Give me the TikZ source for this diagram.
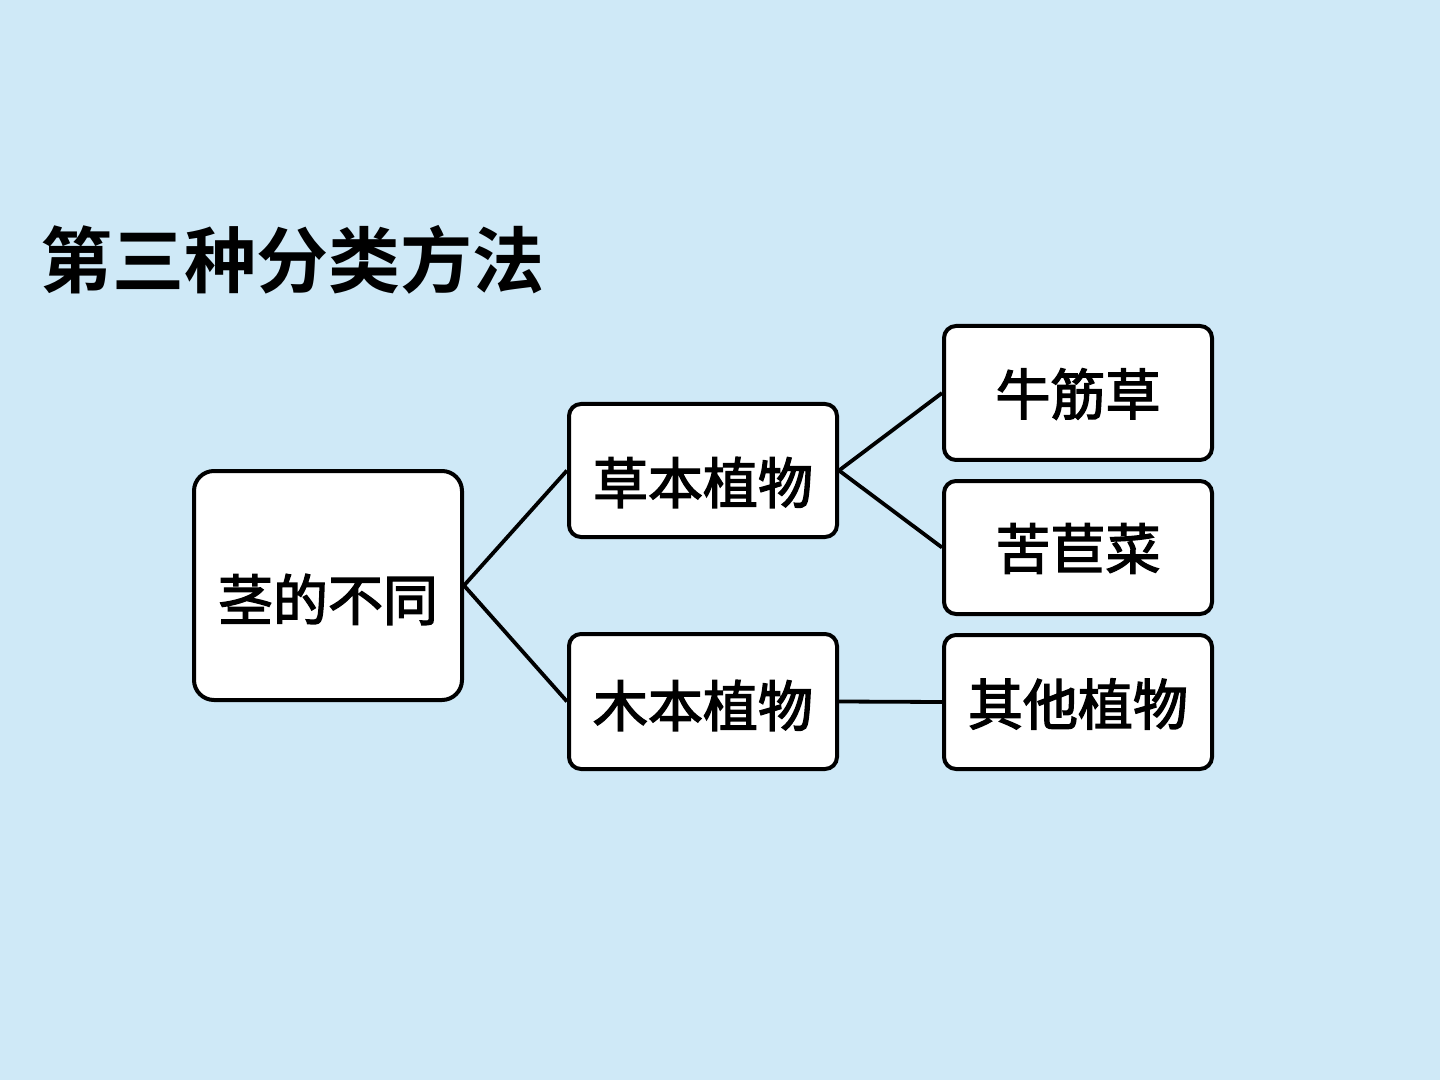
\documentclass[tikz,border=0pt]{standalone}
\usepackage{fontspec}
\newfontfamily\cjk{Noto Sans CJK SC}[FakeBold=2.5]
\newfontfamily\cjkb{Noto Sans CJK SC}[BoldFont={* Bold}]
\definecolor{bgblue}{HTML}{CFE9F7}
\tikzset{
  px/.style={x=0.5pt,y=-0.5pt},
  boxnode/.style={draw=black,line width=2pt,fill=white,rounded corners=6pt,inner sep=0pt,anchor=north west},
  txt/.style={inner sep=0pt,font=\cjk\fontsize{27.5pt}{30pt}\selectfont,text=black},
  link/.style={draw=black,line width=1.9pt}
}
\begin{document}
\begin{tikzpicture}[px]
\fill[bgblue] (0,0) rectangle (1440,1080);
\useasboundingbox (0,0) rectangle (1440,1080);
\node[inner sep=0pt,anchor=west,font=\cjkb\bfseries\fontsize{36pt}{40pt}\selectfont] (title) at (40,260) {第三种分类方法};
% boxes
\node[boxnode,rounded corners=10pt,minimum width=134pt,minimum height=114.5pt] (root) at (192,469) {};
\node[boxnode,minimum width=134pt,minimum height=66.5pt] (herb) at (567,402) {};
\node[boxnode,minimum width=134pt,minimum height=67.5pt] (wood) at (567,632) {};
\node[boxnode,minimum width=134pt,minimum height=67pt] (b1) at (942,324) {};
\node[boxnode,minimum width=134pt,minimum height=66.5pt] (b2) at (942,479) {};
\node[boxnode,minimum width=134pt,minimum height=67pt] (b3) at (942,633) {};
% texts
\node[txt] (troot) at ([yshift=-7pt]root.center) {茎的不同};
\node[txt] (therb) at ([yshift=-6pt]herb.center) {草本植物};
\node[txt] (twood) at ([yshift=-2pt]wood.center) {木本植物};
\node[txt] (tb1) at ([yshift=-0.5pt]b1.center) {牛筋草};
\node[txt] (tb2) at ([yshift=-0.5pt]b2.center) {苦苣菜};
\node[txt] (tb3) at ([yshift=-1pt]b3.center) {其他植物};
% connectors
\draw[link] (root.east) -- (herb.west);
\draw[link] (root.east) -- (wood.west);
\draw[link] (herb.east) -- (b1.west);
\draw[link] (herb.east) -- (b2.west);
\draw[link] (wood.east) -- (b3.west);
\end{tikzpicture}
\end{document}
